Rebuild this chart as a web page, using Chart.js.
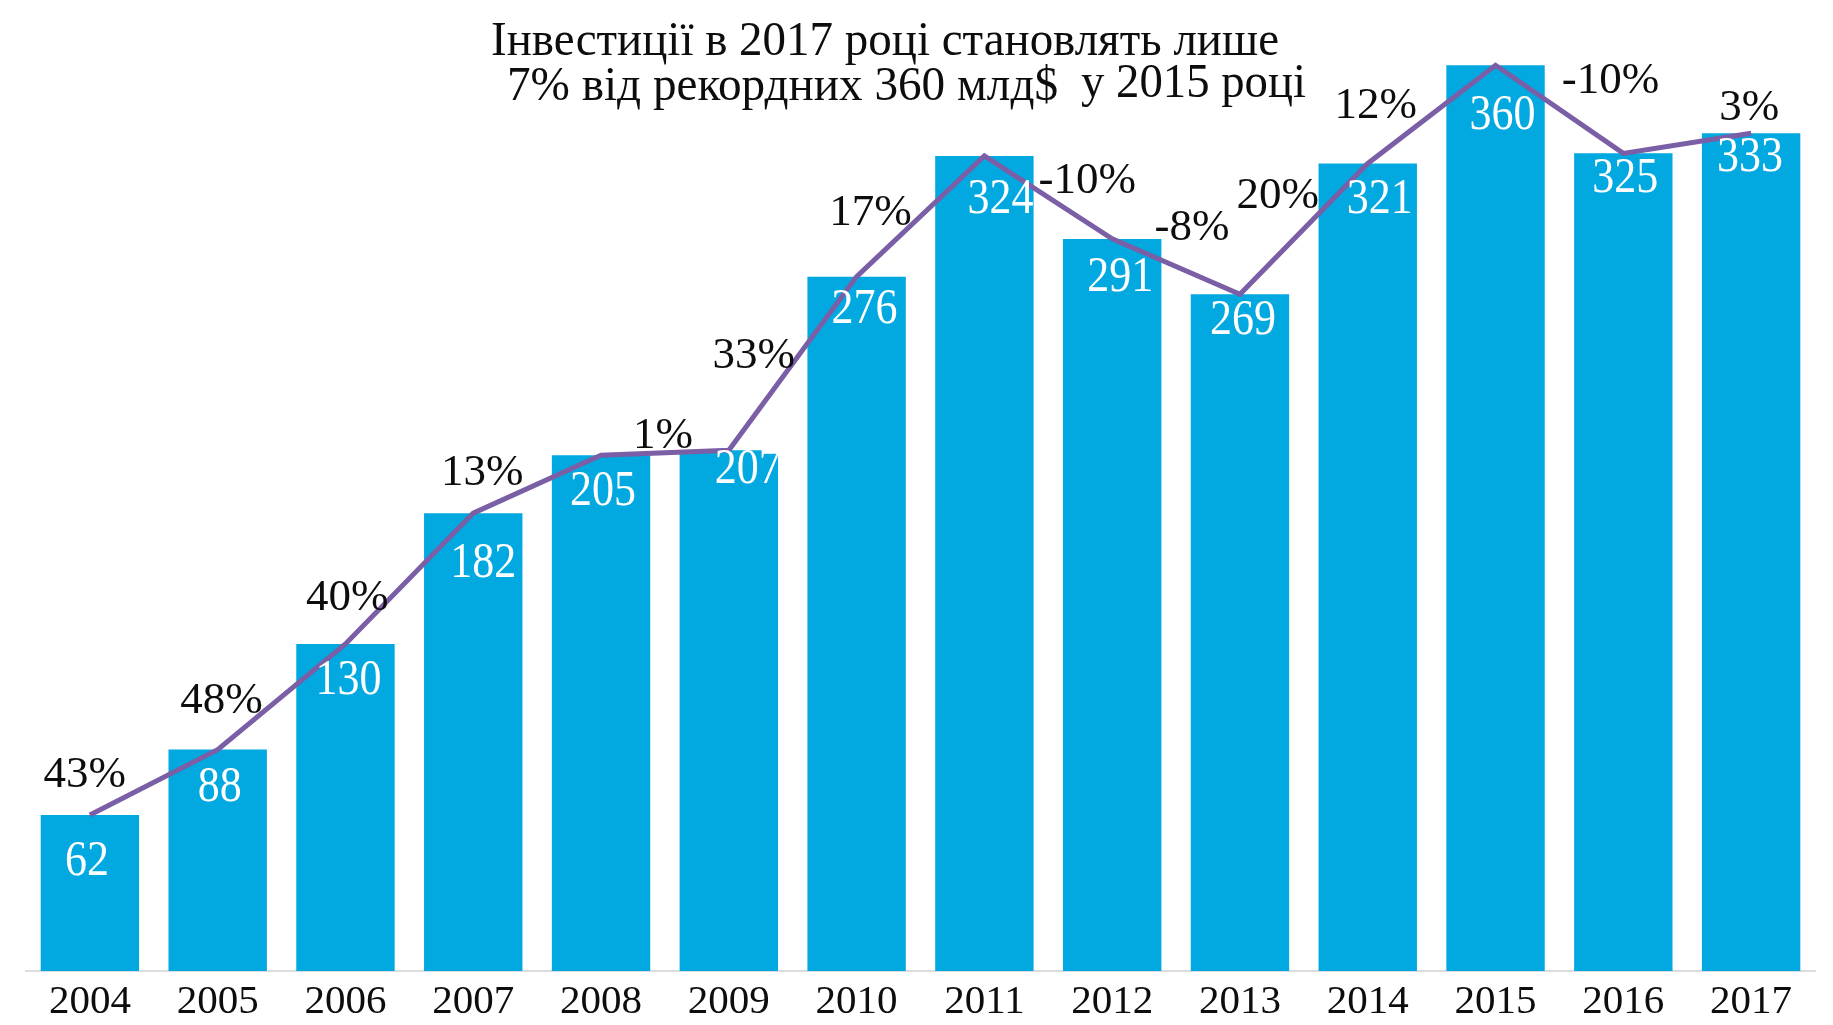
<!DOCTYPE html>
<html lang="uk">
<head>
<meta charset="utf-8">
<title>Інвестиції 2004–2017</title>
<script src="https://cdn.jsdelivr.net/npm/chart.js@4.4.1/dist/chart.umd.min.js"></script>
<style>
  html, body { margin: 0; padding: 0; background: #ffffff; }
  #wrap { width: 1833px; height: 1025px; position: relative; }
</style>
</head>
<body>
<div id="wrap"><canvas id="chart"></canvas></div>
<script>
const years = ['2004', '2005', '2006', '2007', '2008', '2009', '2010', '2011', '2012', '2013', '2014', '2015', '2016', '2017'];
const investment = [62, 88, 130, 182, 205, 207, 276, 324, 291, 269, 321, 360, 325, 333];
// year-on-year change, one per segment of the line
const growth = [43, 48, 40, 13, 1, 33, 17, -10, -8, 20, 12, -10, 3];
const titleLine1 = 'Інвестиції в 2017 році становлять лише';
const titleLine2a = '7% від рекордних 360 млд$';
const titleLine2b = 'у 2015 році';

const SERIF = '"Liberation Serif", "Times New Roman", serif';

// hand placement of the labels: [dx, dy] in px
const valueNudge = [[-3, 43], [2, 34], [3, 33], [10, 47], [2, 33], [19, 16], [8, 29],
  [16, 40], [8, 35], [3, 23], [12, 33], [7, 47], [2, 22], [-1, 21]];
const growthNudge = [[-69, -10], [-60, 1], [-62, 16], [-55, -14], [-2, -20], [-39, -10], [-50, -6],
  [39, -19], [16, -42], [-26, -36], [-56, -11], [51, -31], [62, -38]];

function squeezeText(ctx, text, x, y, sx) {
  ctx.save();
  ctx.translate(x, y);
  ctx.scale(sx, 1);
  ctx.fillText(text, 0, 0);
  ctx.restore();
}

function fitText(ctx, text, left, baseline, width) {
  const w = ctx.measureText(text).width;
  ctx.save();
  ctx.translate(left, baseline);
  ctx.scale(width / w, 1);
  ctx.textAlign = 'left';
  ctx.fillText(text, 0, 0);
  ctx.restore();
}

const labelPlugin = {
  id: 'labels',
  afterDatasetsDraw(chart) {
    const ctx = chart.ctx;
    const bars = chart.getDatasetMeta(1).data;
    const pts = chart.getDatasetMeta(0).data;

    ctx.save();
    ctx.textAlign = 'center';
    ctx.textBaseline = 'alphabetic';

    // values inside the bars
    ctx.fillStyle = '#ffffff';
    ctx.font = '50px ' + SERIF;
    bars.forEach((bar, i) => {
      const [dx, dy] = valueNudge[i];
      squeezeText(ctx, String(investment[i]), bar.x + dx, bar.y + dy + 17, 0.88);
    });

    // growth between neighbouring years
    ctx.fillStyle = '#0d0d0d';
    ctx.font = '45px ' + SERIF;
    growth.forEach((g, i) => {
      const a = pts[i], b = pts[i + 1];
      const [dx, dy] = growthNudge[i];
      const mx = (a.x + b.x) / 2 + dx;
      const my = (a.y + b.y) / 2 + dy;
      ctx.fillText(g + '%', mx, my + 15);
    });

    // heading
    ctx.font = '48px ' + SERIF;
    fitText(ctx, titleLine1, 491, 55, 788);
    fitText(ctx, titleLine2a, 507, 100, 551);
    fitText(ctx, titleLine2b, 1081, 97, 225);
    ctx.restore();
  }
};

new Chart(document.getElementById('chart'), {
  data: {
    labels: years,
    datasets: [
      {
        type: 'line',
        data: investment,
        borderColor: '#7a5ea6',
        borderWidth: 5,
        pointRadius: 0,
        tension: 0,
        order: 0
      },
      {
        type: 'bar',
        data: investment,
        backgroundColor: '#02a9e0',
        barPercentage: 0.77,
        categoryPercentage: 1,
        order: 1
      }
    ]
  },
  options: {
    responsive: true,
    maintainAspectRatio: false,
    animation: false,
    layout: { padding: { left: 26, right: 18, top: 15, bottom: 0 } },
    plugins: {
      legend: { display: false },
      tooltip: { enabled: false },
      title: { display: false }
    },
    scales: {
      x: {
        grid: { display: false, drawTicks: false },
        border: { display: true, color: '#dcdcdc', width: 2 },
        ticks: {
          color: '#0d0d0d',
          padding: 7,
          font: { family: SERIF, size: 41 }
        },
        afterFit(scale) { scale.height = 54; }
      },
      y: {
        display: false,
        min: 0,
        max: 380
      }
    }
  },
  plugins: [labelPlugin]
});
</script>
</body>
</html>
